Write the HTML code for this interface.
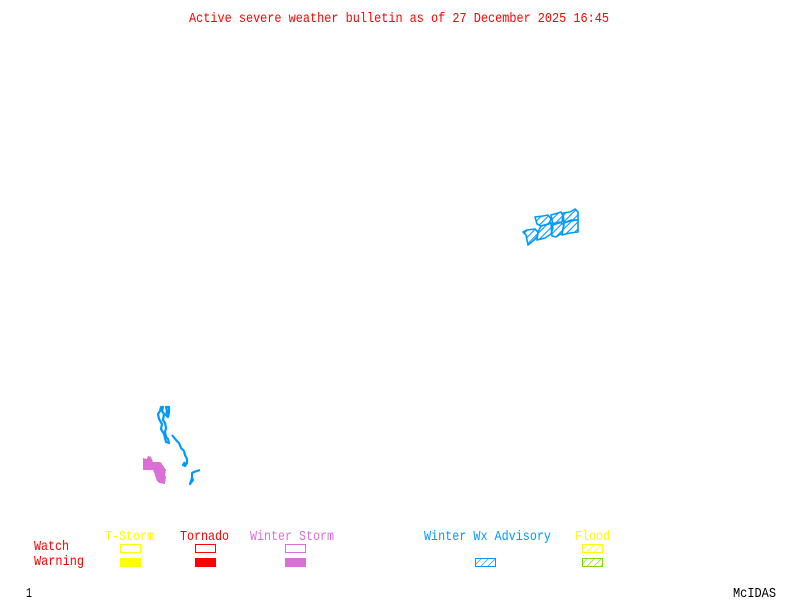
<!DOCTYPE html>
<html><head><meta charset="utf-8"><style>
html,body{margin:0;padding:0;background:#fff;width:800px;height:600px;overflow:hidden}
svg{display:block}
text{font-family:"Liberation Mono",monospace;font-size:14px}
</style></head><body>
<svg width="800" height="600" viewBox="0 0 800 600" xmlns="http://www.w3.org/2000/svg">
<defs>
<pattern id="hb" width="5" height="5" patternUnits="userSpaceOnUse" patternTransform="rotate(45)"><line x1="0" y1="0" x2="0" y2="5" stroke="#009aff" stroke-width="2.2"/></pattern>
<pattern id="lb" width="5" height="5" patternUnits="userSpaceOnUse" patternTransform="rotate(45)"><line x1="0" y1="0" x2="0" y2="5" stroke="#009aff" stroke-width="1.4"/></pattern>
<pattern id="ly" width="5" height="5" patternUnits="userSpaceOnUse" patternTransform="rotate(45)"><line x1="0" y1="0" x2="0" y2="5" stroke="#ffff00" stroke-width="1.4"/></pattern>
<pattern id="lg" width="5" height="5" patternUnits="userSpaceOnUse" patternTransform="rotate(45)"><line x1="0" y1="0" x2="0" y2="5" stroke="#7fdd00" stroke-width="1.4"/></pattern>
</defs>
<rect width="800" height="600" fill="#fff"/>
<text x="189" y="22" fill="#f00" textLength="420" lengthAdjust="spacingAndGlyphs">Active severe weather bulletin as of 27 December 2025 16:45</text>
<g fill="url(#hb)" stroke="#009aff" stroke-width="1.6" stroke-linejoin="round">
<polygon points="523,232 527,230 535,229 538,232 537,237 533,241 528,245 526,235"/>
<polygon points="538,232 541,226 551,223 553,228 551,234 545,238 537,240"/>
<polygon points="551,224 560,222 564,225 562,233 556,237 552,236"/>
<polygon points="564,223 571,220 578,220 578,232 570,233 562,235"/>
<polygon points="535,217 543,216 548,215 551,219 549,224 541,226 537,224"/>
<polygon points="551,215 558,213 561,212 563,216 562,222 553,225"/>
<polygon points="563,213 570,212 575,209 578,212 578,220 570,221 564,223"/>
</g>
<g fill="none" stroke="#009aff" stroke-width="2.2" stroke-linejoin="round">
<polygon points="161,407 163,407 162,411 164,414 163,420 165,423 166,428 165,432 166,437 168,439 169,443 166,442 164,434 161,429 162,424 159,419 158,414 160,411"/>
<polygon points="166,407 169,407 169,412 168,417 166,415 167,411"/>
<polyline points="172,435 176,440 179,443 181,448 184,451 185,455 187,459 187,463 185,466 183,465 185,462"/>
<polyline points="200,470 194,472 192,473 192,478 193,480 190,484 192,478"/>
</g>
<polygon fill="#da70d6" points="143,458 147,459 148,456 151,457 153,462 160,462 162,464 164,467 166,470 165,475 166,477 165,484 159,483 157,481 155,475 153,470 143,470" shape-rendering="crispEdges"/>
<text x="105" y="540" fill="#ffff00" textLength="49" lengthAdjust="spacingAndGlyphs">T-Storm</text>
<text x="180" y="540" fill="#f00" textLength="49" lengthAdjust="spacingAndGlyphs">Tornado</text>
<text x="250" y="540" fill="#da70d6" textLength="84" lengthAdjust="spacingAndGlyphs">Winter Storm</text>
<text x="424" y="540" fill="#009aff" textLength="127" lengthAdjust="spacingAndGlyphs">Winter Wx Advisory</text>
<text x="575" y="540" fill="#ffff00" textLength="35" lengthAdjust="spacingAndGlyphs">Flood</text>
<text x="34" y="550" fill="#f00" textLength="35" lengthAdjust="spacingAndGlyphs">Watch</text>
<text x="34" y="565" fill="#f00" textLength="50" lengthAdjust="spacingAndGlyphs">Warning</text>
<text x="26" y="597" fill="#000" textLength="6" lengthAdjust="spacingAndGlyphs">1</text>
<text x="733" y="597" fill="#000" textLength="43" lengthAdjust="spacingAndGlyphs">McIDAS</text>
<g shape-rendering="crispEdges" stroke-width="1">
<rect x="120.5" y="544.5" width="20" height="8" fill="none" stroke="#ffff00"/>
<rect x="120" y="558" width="21" height="9" fill="#ffff00"/>
<rect x="195.5" y="544.5" width="20" height="8" fill="none" stroke="#f00"/>
<rect x="195" y="558" width="21" height="9" fill="#f00"/>
<rect x="285.5" y="544.5" width="20" height="8" fill="none" stroke="#da70d6"/>
<rect x="285" y="558" width="21" height="9" fill="#da70d6"/>
<rect x="475.5" y="558.5" width="20" height="8" fill="url(#lb)" stroke="#009aff"/>
<rect x="582.5" y="544.5" width="20" height="8" fill="url(#ly)" stroke="#ffff00"/>
<rect x="582.5" y="558.5" width="20" height="8" fill="url(#lg)" stroke="#7fdd00"/>
</g>
</svg>
</body></html>
